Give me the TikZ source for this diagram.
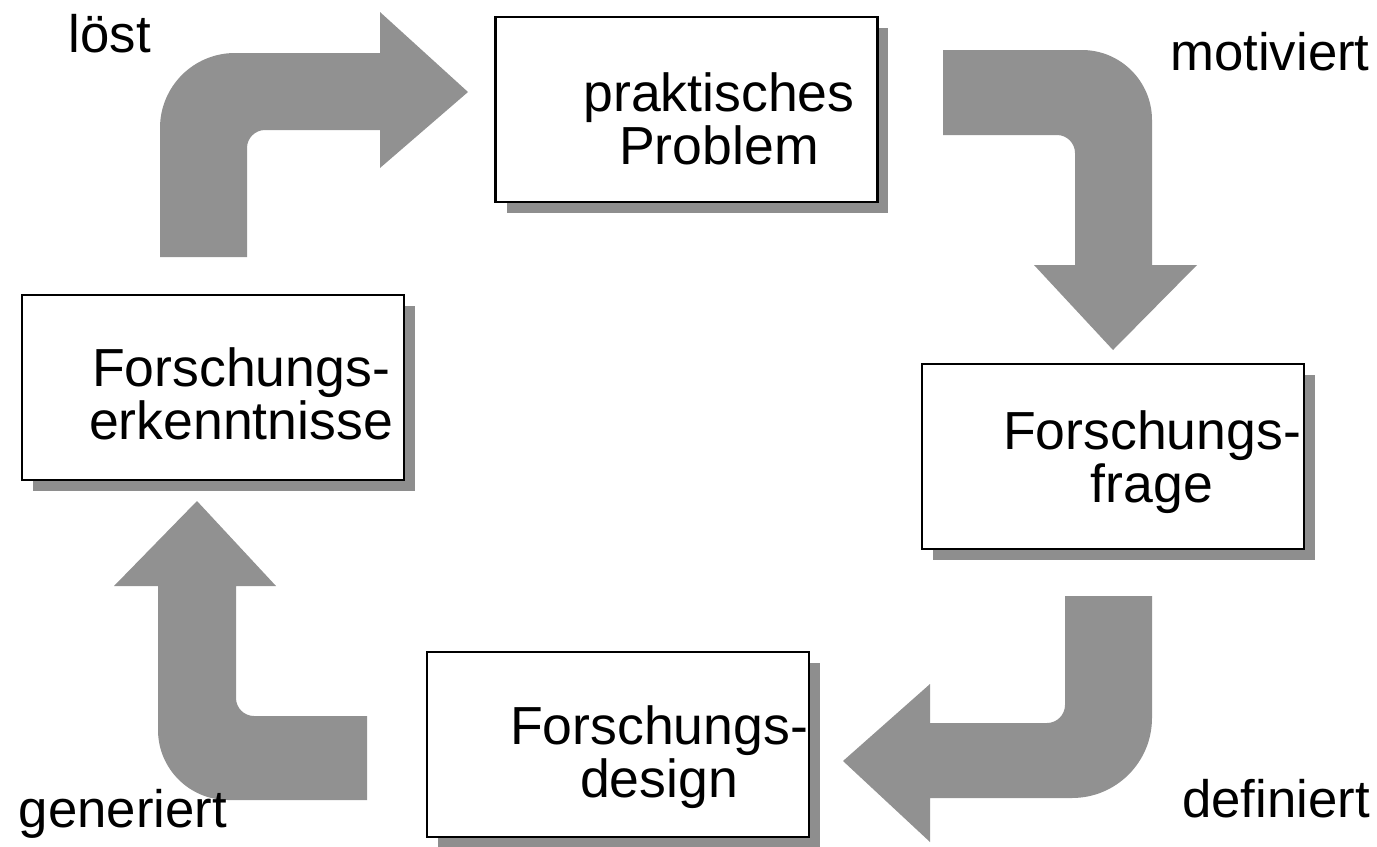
\documentclass[tikz,border=0pt]{standalone}
\usepackage{fontspec}
\setmainfont{Liberation Sans}
\usetikzlibrary{shadows}
\definecolor{arrowgray}{RGB}{145,145,145}
\definecolor{shadowgray}{RGB}{142,142,142}
\tikzset{
  box/.style={draw, line width=1.6pt, fill=white, minimum width=7.64cm, minimum height=3.7cm,
    drop shadow={shadow xshift=0.22cm, shadow yshift=-0.22cm, fill=shadowgray, opacity=1}},
  boxtext/.style={font=\fontsize{30.5}{30.5}\selectfont, align=center, inner sep=0pt},
  verb/.style={font=\fontsize{30}{34}\selectfont, anchor=base, inner sep=0pt},
  bent/.style={fill=arrowgray}
}
\begin{document}
\begin{tikzpicture}[x=0.02cm, y=-0.02cm]
            \useasboundingbox (0,0) rectangle (1377,846);
            \fill[bent] (160,257) -- (160,128) .. controls (160,86.6) and (193.4,53) .. (235,53) -- (380,53) -- (380,12) -- (468,92) -- (380,168) -- (380,130) -- (265,130) .. controls (255.1,130) and (247,138.1) .. (247,148) -- (247,257) -- cycle;
            \fill[bent] (943,50) -- (1082,50) .. controls (1120.6,50) and (1152,81.4) .. (1152,120) -- (1152,265) -- (1197,265) -- (1113,350) -- (1034,265) -- (1075,265) -- (1075,153) .. controls (1075,143.1) and (1066.9,135) .. (1057,135) -- (943,135) -- cycle;
            \fill[bent] (1065,596) -- (1152,596) -- (1152,718) .. controls (1152,762.2) and (1116.2,798) .. (1072,798) -- (930,798) -- (930,842) -- (843,761) -- (930,684) -- (930,723) -- (1047,723) .. controls (1056.9,723) and (1065,714.9) .. (1065,705) -- cycle;
            \fill[bent] (367,800) -- (228,800) .. controls (189.4,800) and (158,768.6) .. (158,730) -- (158,586) -- (114,586) -- (197,501) -- (276,586) -- (236,586) -- (236,698) .. controls (236,707.9) and (244.1,716) .. (254,716) -- (367,716) -- cycle;
            \node[box] (problem) at (686.5,109.5) {};
            \node[box] (erkenntnisse) at (213,387.5) {};
            \node[box] (frage) at (1113,456.5) {};
            \node[box] (design) at (618,744.5) {};
            \node[boxtext] (problemtext) at (719,119) {praktisches\\Problem};
            \node[boxtext] (erkenntnissetext) at (241,394) {Forschungs-\\erkenntnisse};
            \node[boxtext] (fragetext) at (1152,462) {Forschungs-\\frage};
            \node[boxtext] (designtext) at (659,757) {Forschungs-\\design};
            \node[verb] (loest) at (110,52) {löst};
            \node[verb] (motiviert) at (1270,70) {motiviert};
            \node[verb] (definiert) at (1276,817) {definiert};
            \node[verb] (generiert) at (123,827) {generiert};
\end{tikzpicture}
\end{document}
